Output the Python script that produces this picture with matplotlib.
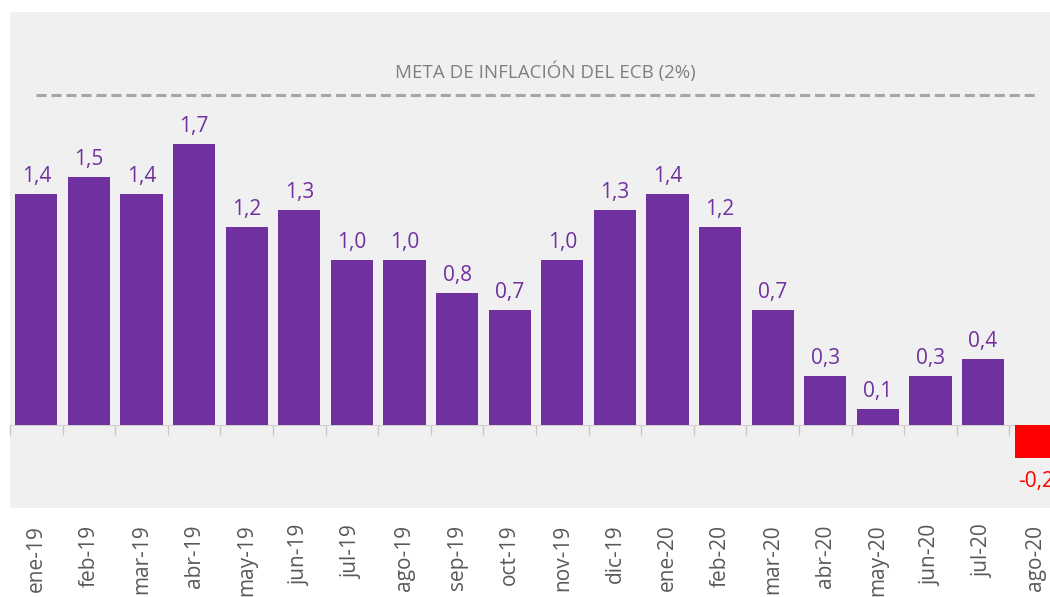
import numpy as np
from matplotlib import pyplot as plt

meses = ["ene-19", "feb-19", "mar-19", "abr-19", "may-19", "jun-19", "jul-19",
         "ago-19", "sep-19", "oct-19", "nov-19", "dic-19", "ene-20", "feb-20",
         "mar-20", "abr-20", "may-20", "jun-20", "jul-20", "ago-20"]
inflacion = [1.4, 1.5, 1.4, 1.7, 1.2, 1.3, 1.0, 1.0, 0.8, 0.7, 1.0, 1.3, 1.4,
             1.2, 0.7, 0.3, 0.1, 0.3, 0.4, -0.2]
meta = 2.0
texto_meta = "META DE INFLACIÓN DEL ECB (2%)"

morado = "#7030a0"
rojo = "#ff0000"
fuente = ["Open Sans", "DejaVu Sans"]

fig = plt.figure(figsize=(10.5, 5.97), dpi=100)
ax = fig.add_axes([10 / 1050, 89 / 597, 1052 / 1050, 496 / 597])
ax.set_facecolor("#f0f0f0")

x = np.arange(len(meses))
colores = [morado if v >= 0 else rojo for v in inflacion]
ax.bar(x, inflacion, width=0.8, color=colores, zorder=3)

ymin, ymax = -0.5, 2.5
ax.set_ylim(ymin, ymax)
ax.set_xlim(-0.5, len(meses) - 0.5)

# etiquetas de valores
for xi, v, c in zip(x, inflacion, colores):
    txt = f"{v:.1f}".replace(".", ",")
    if v >= 0:
        ax.annotate(txt, (xi, v), xytext=(0, 5), textcoords="offset points",
                    ha="center", va="bottom", color=c, fontsize=15, family=fuente)
    else:
        ax.annotate(txt, (xi, v), xytext=(0, -9), textcoords="offset points",
                    ha="center", va="top", color=c, fontsize=15, family=fuente)

# linea de la meta
ax.plot([x[0], x[-1]], [meta, meta], color="#a6a6a6", lw=2.2,
        linestyle=(0, (3.3, 1.6)), zorder=2)
ax.text((x[0] + x[-1]) / 2 + 0.18, 2.14, texto_meta, ha="center", va="center",
        color="#7f7f7f", fontsize=13.5, family=fuente)

for s in ax.spines.values():
    s.set_visible(False)
ax.set_yticks([])
ax.set_xticks(x)
ax.set_xticklabels(meses, rotation=90, color="#595959", fontsize=15, family=fuente)
ax.tick_params(axis="x", length=0, pad=12)

# eje en cero con marcas entre categorias
sec = ax.secondary_xaxis((0 - ymin) / (ymax - ymin))
sec.set_xticks(np.arange(len(meses) + 1) - 0.5)
sec.set_xticklabels([])
sec.tick_params(axis="x", direction="out", length=7, color="#c8c8c8", width=1)
sec.spines["bottom"].set_color("#d0d0d0")
for k in ["top", "left", "right"]:
    sec.spines[k].set_visible(False)

fig.savefig("out.png", dpi=100)
